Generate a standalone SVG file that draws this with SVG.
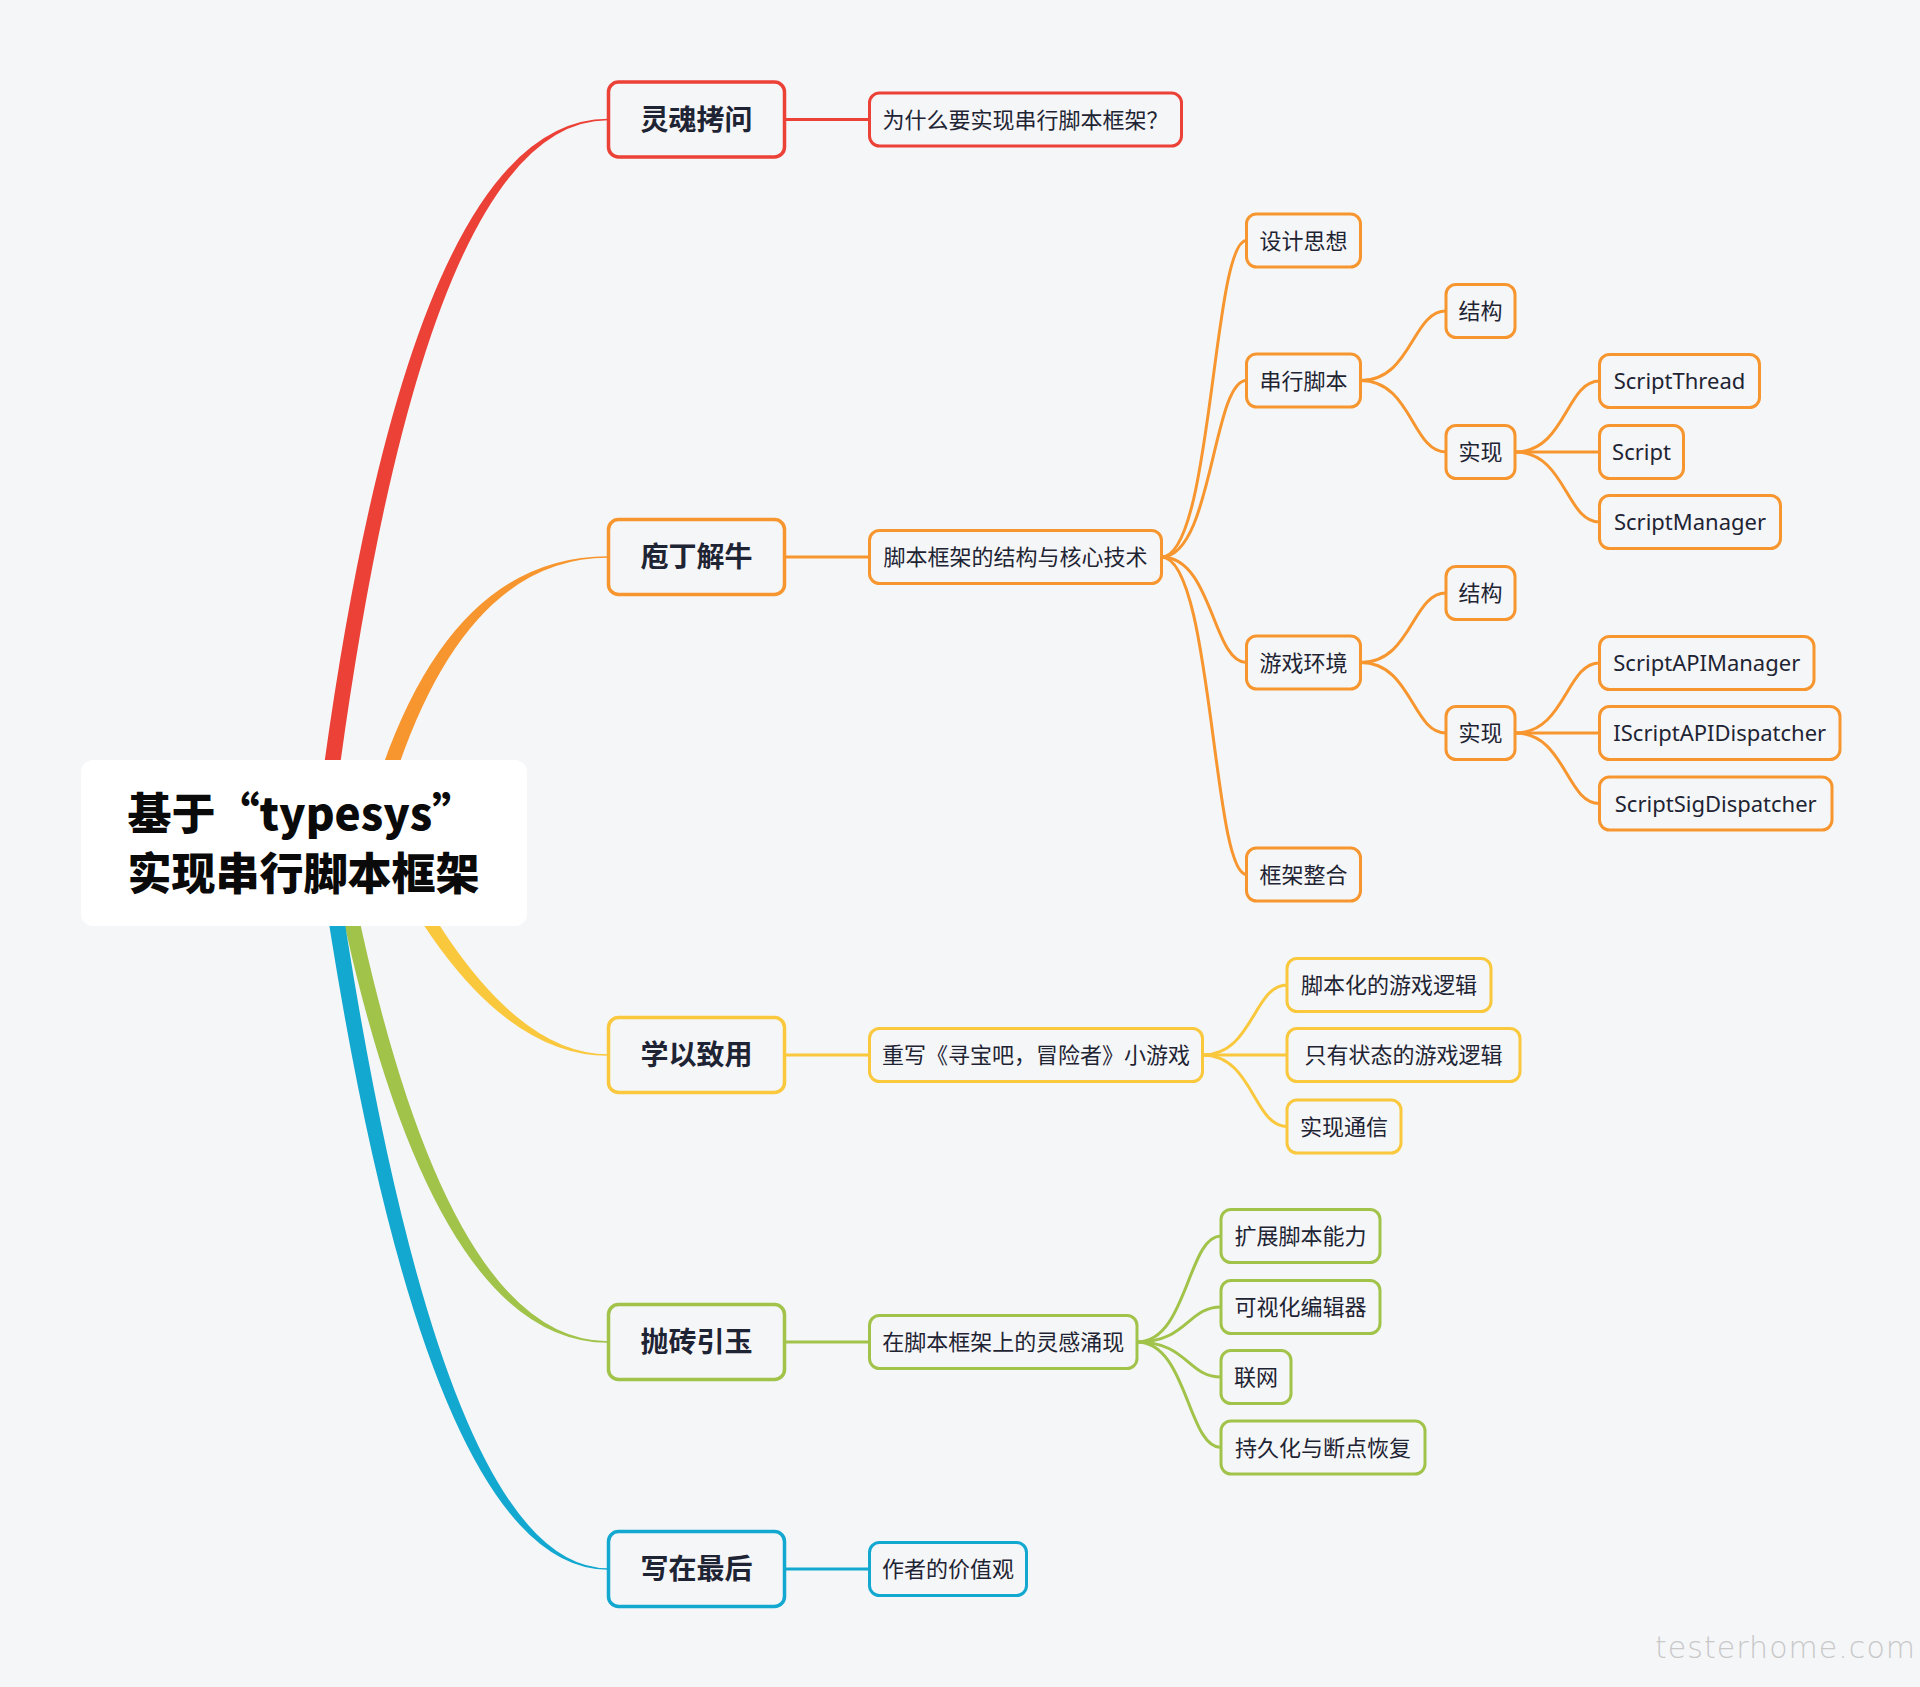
<svg xmlns="http://www.w3.org/2000/svg" width="1920" height="1687" viewBox="0 0 1920 1687">
<style>
text{font-family:"Noto Sans","Noto Sans CJK SC",sans-serif;fill:#1E2433;text-anchor:middle}
.t1{font-family:"Noto Sans CJK SC",sans-serif;font-size:28px;font-weight:700}
.t2{font-size:22px}
.tr{font-family:"Noto Sans CJK SC",sans-serif;font-size:44px;font-weight:900;text-anchor:start;fill:#0A0A0A}
.box{fill:#F5F6F8;stroke-width:3}
.b1{stroke-width:3.5}
.ln{fill:none;stroke-width:3;stroke-linecap:round}
.red{stroke:#EB4137}.org{stroke:#F7962F}.yel{stroke:#F9C83D}.grn{stroke:#A1C34A}.blu{stroke:#12A8D0}
</style>
<rect width="1920" height="1687" fill="#F5F6F8"/>
<g id="connectors">
<path d="M314,843 Q402,118.75 608,118.75 L608,120.25 Q418,120.25 330,843 Z" fill="#EB4137"/>
<path d="M360,843 Q431,556.25 608,556.25 L608,557.75 Q447,557.75 376,843 Z" fill="#F7962F"/>
<path d="M377,843 Q483,1055.75 608,1055.75 L608,1054.25 Q499,1054.25 393,843 Z" fill="#F9C83D"/>
<path d="M328,843 Q421,1342.75 608,1342.75 L608,1341.25 Q437,1341.25 344,843 Z" fill="#A1C34A"/>
<path d="M317,843 Q420,1569.75 608,1569.75 L608,1568.25 Q436,1568.25 333,843 Z" fill="#12A8D0"/>
<path class="ln red" d="M784.5,119.5 H869.5"/>
<path class="ln org" d="M784.5,557 H869.5"/>
<path class="ln yel" d="M784.5,1055 H869.5"/>
<path class="ln grn" d="M784.5,1342 H869.5"/>
<path class="ln blu" d="M784.5,1569 H869.5"/>
<path class="ln org" d="M1161.5,557 C1212.5,557 1212.5,240.5 1246.5,240.5"/>
<path class="ln org" d="M1161.5,557 C1212.5,557 1212.5,380.5 1246.5,380.5"/>
<path class="ln org" d="M1161.5,557 C1212.5,557 1212.5,662.5 1246.5,662.5"/>
<path class="ln org" d="M1161.5,557 C1212.5,557 1212.5,874.5 1246.5,874.5"/>
<path class="ln org" d="M1360.5,380.5 C1411.8,380.5 1411.8,311 1446,311"/>
<path class="ln org" d="M1360.5,380.5 C1411.8,380.5 1411.8,452 1446,452"/>
<path class="ln org" d="M1360.5,662.5 C1411.8,662.5 1411.8,593 1446,593"/>
<path class="ln org" d="M1360.5,662.5 C1411.8,662.5 1411.8,733 1446,733"/>
<path class="ln org" d="M1515,452 C1565.7,452 1565.7,381 1599.5,381"/>
<path class="ln org" d="M1515,452 H1599.5"/>
<path class="ln org" d="M1515,452 C1565.7,452 1565.7,522 1599.5,522"/>
<path class="ln org" d="M1515,733 C1565.7,733 1565.7,663 1599.5,663"/>
<path class="ln org" d="M1515,733 H1599.5"/>
<path class="ln org" d="M1515,733 C1565.7,733 1565.7,803.5 1599.5,803.5"/>
<path class="ln yel" d="M1202.5,1055 C1253.2,1055 1253.2,985 1287,985"/>
<path class="ln yel" d="M1202.5,1055 H1287"/>
<path class="ln yel" d="M1202.5,1055 C1253.2,1055 1253.2,1126.5 1287,1126.5"/>
<path class="ln grn" d="M1137,1342 C1187.4,1342 1187.4,1236 1221,1236"/>
<path class="ln grn" d="M1137,1342 C1187.4,1342 1187.4,1307 1221,1307"/>
<path class="ln grn" d="M1137,1342 C1187.4,1342 1187.4,1377 1221,1377"/>
<path class="ln grn" d="M1137,1342 C1187.4,1342 1187.4,1447.5 1221,1447.5"/>
</g>
<g id="root">
<rect x="81" y="760" width="446" height="166" rx="12" fill="#FFFFFF"/>
<text class="tr" x="127.5" y="830">基于“typesys”</text>
<text class="tr" x="127.5" y="890">实现串行脚本框架</text>
</g>
<g id="n-linghun"><rect class="box b1 red" x="608.5" y="82" width="176" height="75" rx="10"/><text class="t1" x="696.5" y="129.5">灵魂拷问</text></g>
<g id="n-paoding"><rect class="box b1 org" x="608.5" y="519.5" width="176" height="75" rx="10"/><text class="t1" x="696.5" y="567">庖丁解牛</text></g>
<g id="n-xueyi"><rect class="box b1 yel" x="608.5" y="1017.5" width="176" height="75" rx="10"/><text class="t1" x="696.5" y="1065">学以致用</text></g>
<g id="n-paozhuan"><rect class="box b1 grn" x="608.5" y="1304.5" width="176" height="75" rx="10"/><text class="t1" x="696.5" y="1352">抛砖引玉</text></g>
<g id="n-xiezai"><rect class="box b1 blu" x="608.5" y="1531.5" width="176" height="75" rx="10"/><text class="t1" x="696.5" y="1579">写在最后</text></g>
<g id="n-weishenme"><rect class="box red" x="869.5" y="93" width="312" height="53" rx="10"/><text class="t2" x="1025.5" y="127.5">为什么要实现串行脚本框架？</text></g>
<g id="n-jiegou-hexin"><rect class="box org" x="869.5" y="530.5" width="292" height="53" rx="10"/><text class="t2" x="1015.5" y="565">脚本框架的结构与核心技术</text></g>
<g id="n-chongxie"><rect class="box yel" x="869.5" y="1028.5" width="333" height="53" rx="10"/><text class="t2" x="1036" y="1063">重写《寻宝吧，冒险者》小游戏</text></g>
<g id="n-linggan"><rect class="box grn" x="869.5" y="1315.5" width="267.5" height="53" rx="10"/><text class="t2" x="1003.25" y="1350">在脚本框架上的灵感涌现</text></g>
<g id="n-jiazhiguan"><rect class="box blu" x="869.5" y="1542.5" width="157" height="53" rx="10"/><text class="t2" x="948" y="1577">作者的价值观</text></g>
<g id="n-sheji"><rect class="box org" x="1246.5" y="214" width="114" height="53" rx="10"/><text class="t2" x="1303.5" y="248.5">设计思想</text></g>
<g id="n-chuanxing"><rect class="box org" x="1246.5" y="354" width="114" height="53" rx="10"/><text class="t2" x="1303.5" y="388.5">串行脚本</text></g>
<g id="n-youxi"><rect class="box org" x="1246.5" y="636" width="114" height="53" rx="10"/><text class="t2" x="1303.5" y="670.5">游戏环境</text></g>
<g id="n-zhenghe"><rect class="box org" x="1246.5" y="848" width="114" height="53" rx="10"/><text class="t2" x="1303.5" y="882.5">框架整合</text></g>
<g id="n-jiegou1"><rect class="box org" x="1446" y="284.5" width="69" height="53" rx="10"/><text class="t2" x="1480.5" y="319">结构</text></g>
<g id="n-shixian1"><rect class="box org" x="1446" y="425.5" width="69" height="53" rx="10"/><text class="t2" x="1480.5" y="460">实现</text></g>
<g id="n-jiegou2"><rect class="box org" x="1446" y="566.5" width="69" height="53" rx="10"/><text class="t2" x="1480.5" y="601">结构</text></g>
<g id="n-shixian2"><rect class="box org" x="1446" y="706.5" width="69" height="53" rx="10"/><text class="t2" x="1480.5" y="741">实现</text></g>
<g id="n-scriptthread"><rect class="box org" x="1599.5" y="354.5" width="160" height="53" rx="10"/><text class="t2" x="1679.5" y="389">ScriptThread</text></g>
<g id="n-script"><rect class="box org" x="1599.5" y="425.5" width="84" height="53" rx="10"/><text class="t2" x="1641.5" y="460">Script</text></g>
<g id="n-scriptmanager"><rect class="box org" x="1599.5" y="495.5" width="181" height="53" rx="10"/><text class="t2" x="1690" y="530">ScriptManager</text></g>
<g id="n-scriptapimanager"><rect class="box org" x="1599.5" y="636.5" width="214.5" height="53" rx="10"/><text class="t2" x="1706.75" y="671">ScriptAPIManager</text></g>
<g id="n-iscriptapidispatcher"><rect class="box org" x="1599.5" y="706.5" width="240.5" height="53" rx="10"/><text class="t2" x="1719.75" y="741">IScriptAPIDispatcher</text></g>
<g id="n-scriptsigdispatcher"><rect class="box org" x="1599.5" y="777" width="232.5" height="53" rx="10"/><text class="t2" x="1715.75" y="811.5">ScriptSigDispatcher</text></g>
<g id="n-jiaobenhua"><rect class="box yel" x="1287" y="958.5" width="204" height="53" rx="10"/><text class="t2" x="1389" y="993">脚本化的游戏逻辑</text></g>
<g id="n-zhiyou"><rect class="box yel" x="1287" y="1028.5" width="233" height="53" rx="10"/><text class="t2" x="1403.5" y="1063">只有状态的游戏逻辑</text></g>
<g id="n-tongxin"><rect class="box yel" x="1287" y="1100" width="114" height="53" rx="10"/><text class="t2" x="1344" y="1134.5">实现通信</text></g>
<g id="n-kuozhan"><rect class="box grn" x="1221" y="1209.5" width="159" height="53" rx="10"/><text class="t2" x="1300.5" y="1244">扩展脚本能力</text></g>
<g id="n-keshihua"><rect class="box grn" x="1221" y="1280.5" width="159" height="53" rx="10"/><text class="t2" x="1300.5" y="1315">可视化编辑器</text></g>
<g id="n-lianwang"><rect class="box grn" x="1221" y="1350.5" width="70" height="53" rx="10"/><text class="t2" x="1256" y="1385">联网</text></g>
<g id="n-chijiu"><rect class="box grn" x="1221" y="1421" width="204" height="53" rx="10"/><text class="t2" x="1323" y="1455.5">持久化与断点恢复</text></g>
<text x="1655" y="1658" textLength="260" lengthAdjust="spacing" style="font-family:'DejaVu Sans',sans-serif;font-size:30px;font-weight:200;fill:#C8C8C8;text-anchor:start">testerhome.com</text>
</svg>
